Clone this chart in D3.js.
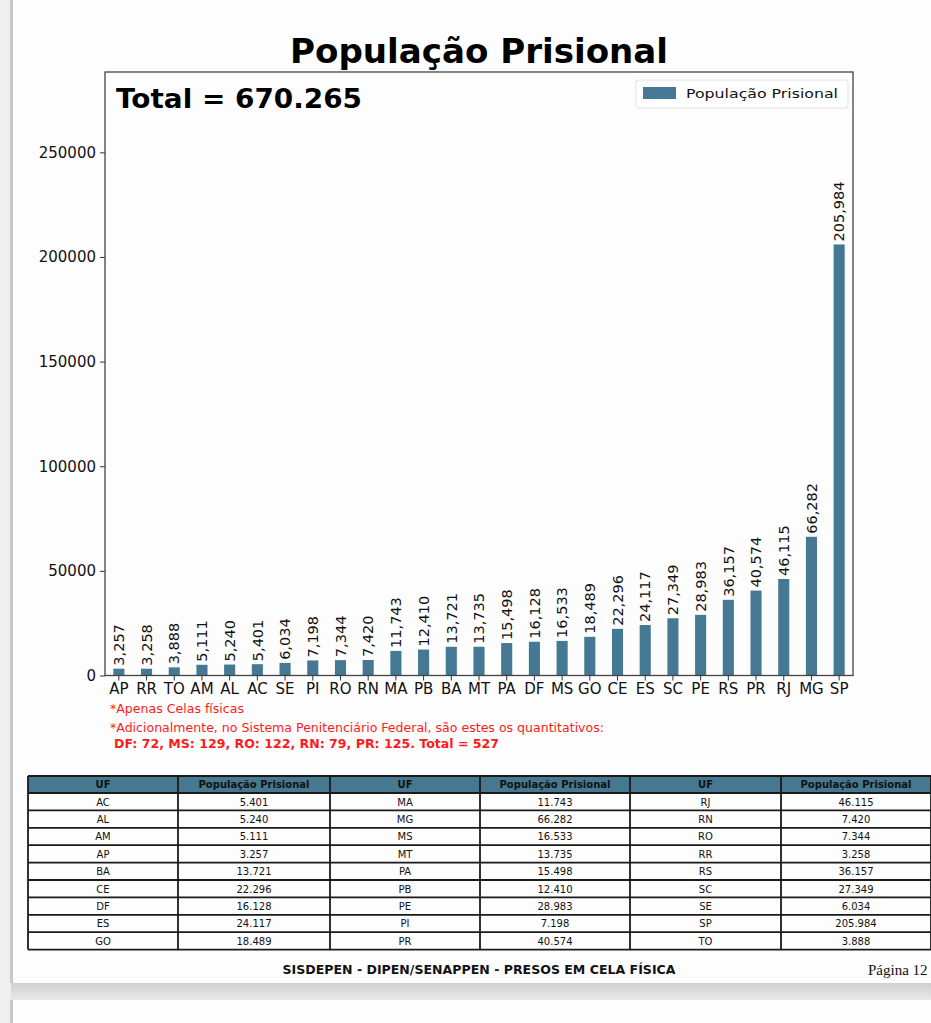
<!DOCTYPE html>
<html><head><meta charset="utf-8">
<script src="https://cdn.jsdelivr.net/npm/d3@7"></script>
<style>body{margin:0;background:#fff;}svg{display:block;}</style>
</head><body>
<svg id="c" width="931" height="1023"></svg>
<script>
const categories = ["AP","RR","TO","AM","AL","AC","SE","PI","RO","RN","MA","PB","BA","MT","PA","DF","MS","GO","CE","ES","SC","PE","RS","PR","RJ","MG","SP"];
const values = [3257,3258,3888,5111,5240,5401,6034,7198,7344,7420,11743,12410,13721,13735,15498,16128,16533,18489,22296,24117,27349,28983,36157,40574,46115,66282,205984];
const yTicks = [0,50000,100000,150000,200000,250000];
const seriesName = "População Prisional";
const titleText = "População Prisional";
const totalText = "Total = 670.265";
const notes = ["*Apenas Celas físicas","*Adicionalmente, no Sistema Penitenciário Federal, são estes os quantitativos:"];
const noteBold = "DF: 72, MS: 129, RO: 122, RN: 79, PR: 125. Total = 527";
const tableHeaders = ["UF","População Prisional","UF","População Prisional","UF","População Prisional"];
const footerText = "SISDEPEN - DIPEN/SENAPPEN - PRESOS EM CELA FÍSICA";
const pageText = "Página 12";

const svg = d3.select("#c");
const barColor = "#457892";

// page background
svg.append("rect").attr("x",0).attr("y",0).attr("width",931).attr("height",1023).attr("fill","#efefef");
const grad = svg.append("defs").append("linearGradient").attr("id","sh").attr("x1",0).attr("y1",0).attr("x2",0).attr("y2",1);
grad.append("stop").attr("offset","0%").attr("stop-color","#cfcfcf");
grad.append("stop").attr("offset","100%").attr("stop-color","#e9e9e9");
svg.append("rect").attr("x",11).attr("y",983).attr("width",920).attr("height",17).attr("fill","url(#sh)");
svg.append("rect").attr("x",13).attr("y",0).attr("width",918).attr("height",983).attr("fill","#fdfdfd");
svg.append("rect").attr("x",13).attr("y",1000).attr("width",918).attr("height",23).attr("fill","#fdfdfd");
svg.append("rect").attr("x",10).attr("y",0).attr("width",3).attr("height",983).attr("fill","#c9c9c9");
svg.append("rect").attr("x",10).attr("y",1000).attr("width",3).attr("height",23).attr("fill","#c9c9c9");

const L=105, R=853, T=72, B=675.5;
const x = d3.scaleBand().domain(categories).range([L,R]).paddingInner(0.6).paddingOuter(0.3);
const y = d3.scaleLinear().domain([0, d3.max(values)*1.4]).range([B,T]);

svg.append("text").attr("x",479).attr("y",63).attr("text-anchor","middle")
  .attr("font-family","DejaVu Sans").attr("font-weight","bold").attr("font-size",33).attr("fill","#000")
  .attr("textLength",378).attr("lengthAdjust","spacingAndGlyphs").text(titleText);

const g = svg.append("g");
g.selectAll("rect.bar").data(values).join("rect").attr("class","bar")
  .attr("x",(d,i)=>x(categories[i])).attr("width",x.bandwidth())
  .attr("y",d=>y(d)).attr("height",d=>B-y(d)).attr("fill",barColor);

const fmtC = d3.format(",");
g.selectAll("text.lbl").data(values).join("text").attr("class","lbl")
  .attr("transform",(d,i)=>`translate(${x(categories[i])+x.bandwidth()/2},${y(d)-3}) rotate(-90)`)
  .attr("dy","0.36em").attr("font-family","DejaVu Sans").attr("font-size",14.5).attr("fill","#111")
  .text(d=>fmtC(d));

// axes
const yAxis = d3.axisLeft(y).tickValues(yTicks).tickSize(5).tickPadding(4).tickFormat(d3.format("d"));
const ya = svg.append("g").attr("transform",`translate(${L},0)`).call(yAxis);
ya.select(".domain").remove();
ya.selectAll("text").attr("font-family","DejaVu Sans").attr("font-size",15).attr("fill","#111");
ya.selectAll("line").attr("stroke","#333");
const xAxis = d3.axisBottom(x).tickSize(5).tickPadding(3);
const xa = svg.append("g").attr("transform",`translate(0,${B})`).call(xAxis);
xa.select(".domain").remove();
xa.selectAll("text").attr("font-family","DejaVu Sans").attr("font-size",15).attr("fill","#111");
xa.selectAll("line").attr("stroke","#333");

svg.append("rect").attr("x",L).attr("y",T).attr("width",R-L).attr("height",B-T)
  .attr("fill","none").attr("stroke","#444").attr("stroke-width",1.3);

svg.append("text").attr("x",116).attr("y",108).attr("font-family","DejaVu Sans").attr("font-weight","bold")
  .attr("font-size",27).attr("fill","#000").attr("textLength",246).attr("lengthAdjust","spacingAndGlyphs").text(totalText);

// legend
svg.append("rect").attr("x",636).attr("y",80).attr("width",212).attr("height",28).attr("rx",3)
  .attr("fill","#fff").attr("stroke","#e0e0e0");
svg.append("rect").attr("x",643).attr("y",87).attr("width",33).attr("height",12).attr("fill",barColor);
svg.append("text").attr("x",686).attr("y",98).attr("font-family","DejaVu Sans").attr("font-size",13)
  .attr("fill","#111").attr("textLength",152).attr("lengthAdjust","spacingAndGlyphs").text(seriesName);

// notes
svg.append("text").attr("x",110).attr("y",713).attr("font-family","DejaVu Sans").attr("font-size",11.5)
  .attr("fill","#ff1a1a").attr("textLength",134).attr("lengthAdjust","spacingAndGlyphs").text(notes[0]);
svg.append("text").attr("x",110).attr("y",732).attr("font-family","DejaVu Sans").attr("font-size",11.5)
  .attr("fill","#ff1a1a").attr("textLength",494).attr("lengthAdjust","spacingAndGlyphs").text(notes[1]);
svg.append("text").attr("x",114).attr("y",748).attr("font-family","DejaVu Sans").attr("font-weight","bold").attr("font-size",12)
  .attr("fill","#ff1a1a").attr("textLength",385).attr("lengthAdjust","spacingAndGlyphs").text(noteBold);

// table
const sorted = categories.map((c,i)=>({uf:c,v:values[i]})).sort((a,b)=>d3.ascending(a.uf,b.uf));
const fmtP = d => d3.format(",")(d).replace(/,/g,".");
const colX = [28,178,330,480,630,781,931];
const tTop = 776, hH = 17, rH = 17.4, nRows = 9;
svg.append("rect").attr("x",colX[0]).attr("y",tTop).attr("width",colX[6]-colX[0]).attr("height",hH).attr("fill","#46788f");
const tg = svg.append("g").attr("font-family","DejaVu Sans").attr("font-size",10).attr("fill","#111").attr("text-anchor","middle");
tableHeaders.forEach((h,j)=>{
  tg.append("text").attr("x",(colX[j]+colX[j+1])/2).attr("y",tTop+12).attr("font-weight","bold").text(h);
});
for(let r=0;r<nRows;r++){
  for(let k=0;k<3;k++){
    const d = sorted[k*nRows+r];
    const yy = tTop+hH+r*rH+12.5;
    tg.append("text").attr("x",(colX[2*k]+colX[2*k+1])/2).attr("y",yy).text(d.uf);
    tg.append("text").attr("x",(colX[2*k+1]+colX[2*k+2])/2).attr("y",yy).text(fmtP(d.v));
  }
}
const lines = svg.append("g").attr("stroke","#1a1a1a").attr("stroke-width",1.8);
for(let r=0;r<=nRows+1;r++){
  const yy = r===0? tTop : tTop+hH+(r-1)*rH;
  lines.append("line").attr("x1",colX[0]).attr("x2",colX[6]).attr("y1",yy).attr("y2",yy);
}
colX.forEach(cx=>{
  lines.append("line").attr("x1",cx).attr("x2",cx).attr("y1",tTop).attr("y2",tTop+hH+nRows*rH);
});

// footer
svg.append("text").attr("x",479).attr("y",974).attr("text-anchor","middle").attr("font-family","DejaVu Sans")
  .attr("font-weight","bold").attr("font-size",12).attr("fill","#111").attr("textLength",393).attr("lengthAdjust","spacingAndGlyphs").text(footerText);
svg.append("text").attr("x",868).attr("y",975).attr("font-family","Liberation Serif").attr("font-size",15)
  .attr("fill","#111").text(pageText);
</script>
</body></html>
